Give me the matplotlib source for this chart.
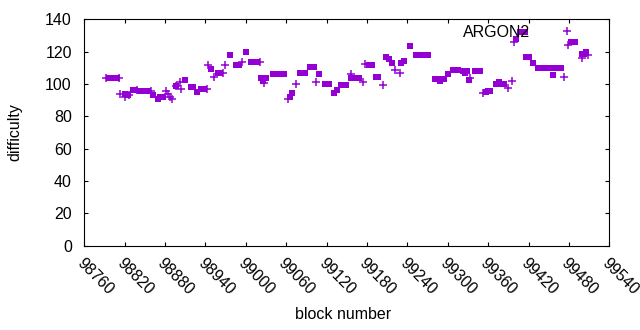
import matplotlib
matplotlib.use('Agg')
import matplotlib.pyplot as plt
from matplotlib.lines import Line2D

# blocks drawn as filled squares
sq_block = [98797, 98801, 98805, 98809, 98821, 98825, 98832, 98835,
            98843, 98847, 98851, 98855, 98862, 98869, 98873, 98877,
            98897, 98910, 98918, 98921, 98927, 98934, 98938, 98948,
            98958, 98962, 98976, 98986, 98990, 99000, 99008, 99012, 99016,
            99022, 99026, 99030, 99040, 99044, 99048, 99052, 99056,
            99066, 99069, 99080, 99084, 99088, 99096, 99101, 99109,
            99118, 99123, 99131, 99135, 99141, 99145, 99149,
            99157, 99161, 99165, 99168, 99183, 99187, 99194, 99197,
            99209, 99212, 99217, 99231, 99235, 99244,
            99253, 99257, 99262, 99266, 99271,
            99281, 99285, 99288, 99290, 99295, 99301, 99308, 99312, 99315,
            99323, 99326, 99329, 99332, 99340, 99344, 99348,
            99357, 99360, 99363, 99372, 99376, 99380, 99383,
            99402, 99407, 99411, 99415, 99417, 99420, 99426,
            99434, 99438, 99442, 99446, 99450, 99455, 99457, 99464, 99468,
            99483, 99486, 99489, 99500, 99503, 99506]
sq_diff = [104, 104, 104, 104, 94, 93.5, 96.5, 96.5,
           95.5, 95.5, 95.5, 95.5, 93.5, 90.5, 92, 92,
           98.7, 102.8, 98, 98, 94.8, 97, 97, 109.6,
           107, 107, 118, 111.7, 111.7, 119.7, 113.5, 113.5, 113.5,
           103.5, 102, 103.5, 106, 106, 106, 106, 106,
           92, 94.2, 106.7, 106.7, 106.7, 110.5, 110.5, 106,
           100, 100, 94.3, 96.5, 99.3, 99.3, 99.3,
           103.6, 103.6, 103.6, 103.6, 111.7, 111.7, 104.5, 104.5,
           117, 115.5, 113, 113, 114, 123.5,
           118, 118, 118, 118, 118,
           103, 103, 101.8, 103, 103, 106, 108.6, 108.6, 108.6,
           108, 106.7, 108, 102.4, 108, 108, 108,
           95, 96, 96, 100, 101.5, 100, 100,
           128, 132, 132, 132, 117, 117, 113,
           110, 110, 110, 110, 110, 110, 105.5, 110, 110,
           126, 126, 126, 118.5, 118.5, 120]

# blocks drawn as plus signs
plus_block = [98793, 98812, 98813, 98820, 98826, 98838, 98859,
              98881, 98885, 98888, 98891, 98897, 98902, 98903,
              98943, 98944, 98952, 98966, 98969, 98995, 99021, 99027,
              99063, 99075, 99105, 99157, 99174, 99177,
              99204, 99222, 99229, 99333, 99352,
              99390, 99395, 99398, 99473, 99479, 99499, 99508]
plus_diff = [104, 104, 93.6, 91.7, 93.5, 96.5, 95.5,
             95.8, 93.7, 92, 90.5, 98.7, 101.4, 96.9,
             97, 111.7, 104.5, 107, 111.7, 113.7, 113.5, 100.8,
             91, 100, 101, 106, 101.4, 112.3,
             99.3, 109, 106.6, 103.5, 94.2,
             97.3, 102, 126, 104.5, 124, 116, 118]

x_ticks = list(range(98760, 99541, 60))
y_ticks = list(range(0, 141, 20))

color = '#9400d3'
fs = 11.5
plt.rcParams['font.family'] = ['Liberation Sans', 'DejaVu Sans']
plt.rcParams['font.size'] = fs

fig = plt.figure(figsize=(6.4, 3.3), dpi=100)
ax = fig.add_axes([0.1317, 0.256, 0.8203, 0.685])

ax.plot(sq_block, sq_diff, linestyle='none', marker='s', markersize=4.6,
        color=color, markeredgewidth=0)
ax.plot(plus_block, plus_diff, linestyle='none', marker='+', markersize=5.2,
        color=color, markeredgewidth=1.1)

ax.set_xlim(98760, 99540)
ax.set_ylim(0, 140)
ax.set_xticks(x_ticks)
ax.set_yticks(y_ticks)
ax.set_xticklabels([str(t) for t in x_ticks], rotation=-45, ha='left',
                   va='top', rotation_mode='anchor')
ax.tick_params(direction='in', top=True, right=True, length=3, width=0.8,
               labelsize=fs)
ax.tick_params(axis='y', pad=9)
ax.tick_params(axis='x', pad=7)
for s in ax.spines.values():
    s.set_linewidth(0.8)

ax.set_xlabel('block number', fontsize=fs, va='center')
ax.set_ylabel('difficulty', fontsize=fs, va='center')
ax.xaxis.set_label_coords(0.493, -0.307)
ax.yaxis.set_label_coords(-0.132, 0.5)

key = Line2D([], [], linestyle='none', marker='+', markersize=5.2,
             color=color, markeredgewidth=1.1)
ax.legend([key], ['ARGON2'], loc='center right', bbox_to_anchor=(0.95, 0.944),
          frameon=False, markerfirst=False, handlelength=2.0,
          handletextpad=1.3, borderpad=0, borderaxespad=0, fontsize=fs)

fig.savefig('out.png', dpi=100)
